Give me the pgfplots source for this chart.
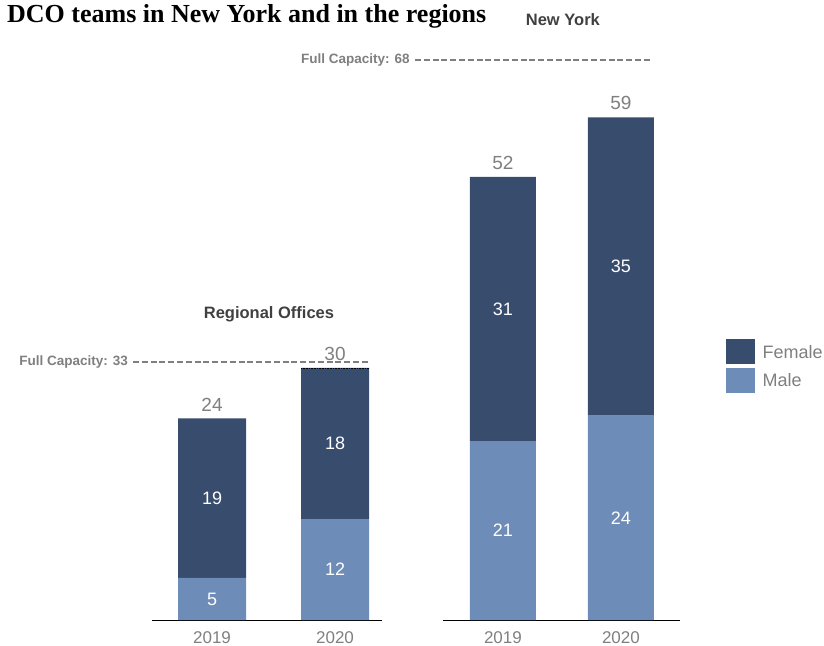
\documentclass[border=0pt]{standalone}
\usepackage{pgfplots}
\pgfplotsset{compat=1.18}
\usepackage{fontspec}
\setmainfont{Liberation Sans}
\newfontfamily\titlefont{Liberation Serif}
\definecolor{femalec}{HTML}{384D6D}
\definecolor{malec}{HTML}{6E8CB8}
\definecolor{txtgray}{HTML}{7F7F7F}
\definecolor{ttlgray}{HTML}{404040}
\newcommand{\fs}[1]{\fontsize{#1bp}{#1bp}\selectfont}
\pgfplotsset{
  barbase/.style={
    ybar stacked, ymin=0, clip=false,
    scale only axis,
    axis x line*=bottom, axis y line=none,
    x axis line style={-, black, line width=0.9bp},
    xtick={0,1}, xticklabels={2019,2020},
    major tick length=0pt,
    xticklabel style={font=\fs{17}, text=txtgray, anchor=base, yshift=-23bp, inner sep=0pt},
    anchor=south west,
  },
  overlay/.style={hide axis, ymin=0, clip=false, scale only axis, anchor=south west},
  regional/.style={at={(152bp,26bp)}, xmin=-0.488, xmax=1.382, ymax=40, x=123bp, y=8.4bp},
  newyork/.style={at={(443bp,26bp)}, xmin=-0.508, xmax=1.5, ymax=72, x=118bp, y=8.52bp},
}
\tikzset{
  inlab/.style={font=\fs{18}, text=white, anchor=center},
  totlab/.style={font=\fs{19}, text=txtgray, anchor=center, yshift=14bp},
  caplab/.style={font=\bfseries\fs{13.5}, text=txtgray, anchor=east, inner sep=0pt, xshift=-5bp},
  capline/.style={draw=txtgray, line width=1.8bp, dash pattern=on 6bp off 2.8bp},
}
\begin{document}
\begin{tikzpicture}
\path[use as bounding box, clip] (0,0) rectangle (824bp,646bp);
\node[anchor=base west, inner sep=0pt, font=\titlefont\bfseries\fs{26}] at (7bp,623bp) {DCO teams in New York and in the regions};

% Regional Offices: bars
\begin{axis}[barbase, regional, bar width=68bp]
\addplot[fill=malec, draw=none] coordinates {(0,5) (1,12)};
\addplot[fill=femalec, draw=none] coordinates {(0,19) (1,18)};
\end{axis}
% Regional Offices: labels
\begin{axis}[overlay, regional]
\node[inlab] at (axis cs:0,2.5) {5};
\node[inlab] at (axis cs:1,6) {12};
\node[inlab] at (axis cs:0,14.5) {19};
\node[inlab] at (axis cs:1,21) {18};
\node[totlab] at (axis cs:0,24) {24};
\node[totlab] at (axis cs:1,30) {30};
\draw[black, densely dotted, line width=0.6bp] (axis cs:0.724,30) -- (axis cs:1.276,30);
\draw[capline] (axis cs:-0.642,30.71) -- (axis cs:1.285,30.71);
\node[caplab] at (axis cs:-0.642,30.71) {Full Capacity: 33};
\node[font=\bfseries\fs{16.5}, text=ttlgray, anchor=center] at (axis cs:0.463,36.4) {Regional Offices};
\end{axis}

% New York: bars
\begin{axis}[barbase, newyork,
  bar width=66bp,
  legend style={at={(1.194,0.458)}, anchor=north west, draw=none, fill=none,
    inner sep=0pt, row sep=4bp, font=\fs{18}, text=txtgray,
    nodes={inner sep=0pt, anchor=base west},
    /tikz/every odd column/.append style={column sep=8bp}},
  legend cell align=left]
\addplot[fill=malec, draw=none, forget plot] coordinates {(0,21) (1,24)};
\addplot[fill=femalec, draw=none, forget plot] coordinates {(0,31) (1,35)};
\addlegendimage{legend image code/.code={\fill[femalec] (0bp,-5bp) rectangle (28bp,19bp);}}
\addlegendentry{Female}
\addlegendimage{legend image code/.code={\fill[malec] (0bp,-5bp) rectangle (28bp,19bp);}}
\addlegendentry{Male}
\end{axis}
% New York: labels
\begin{axis}[overlay, newyork]
\node[inlab] at (axis cs:0,10.5) {21};
\node[inlab] at (axis cs:1,12) {24};
\node[inlab] at (axis cs:0,36.5) {31};
\node[inlab] at (axis cs:1,41.5) {35};
\node[totlab] at (axis cs:0,52) {52};
\node[totlab] at (axis cs:1,59) {59};
\draw[capline] (axis cs:-0.746,65.73) -- (axis cs:1.263,65.73);
\node[caplab] at (axis cs:-0.746,65.73) {Full Capacity: 68};
\node[font=\bfseries\fs{16.5}, text=ttlgray, anchor=center] at (axis cs:0.508,70.5) {New York};
\end{axis}
\end{tikzpicture}
\end{document}
